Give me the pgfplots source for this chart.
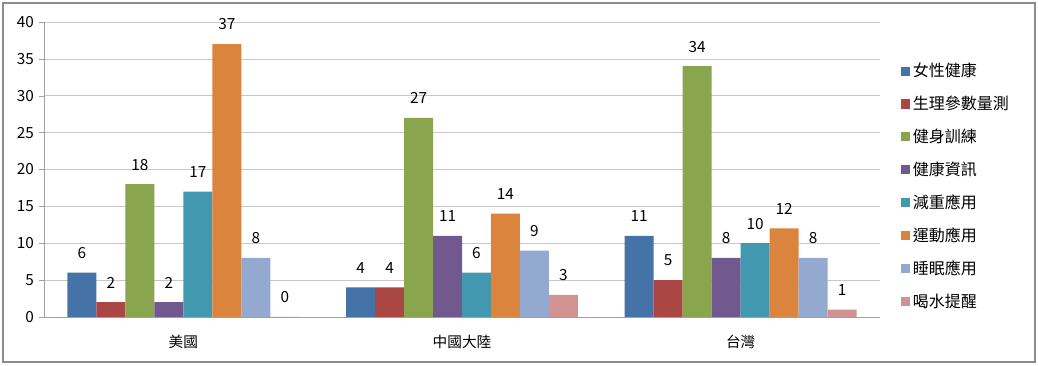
\documentclass[border=0pt]{standalone}
\usepackage{pgfplots}
\pgfplotsset{compat=1.18}
\usepackage{fontspec}
\setmainfont{Noto Sans CJK TC}
\definecolor{c1}{HTML}{4572A7}
\definecolor{c2}{HTML}{AA4643}
\definecolor{c3}{HTML}{89A54E}
\definecolor{c4}{HTML}{71588F}
\definecolor{c5}{HTML}{4198AF}
\definecolor{c6}{HTML}{DB843D}
\definecolor{c7}{HTML}{93A9CF}
\definecolor{c8}{HTML}{D19392}
\definecolor{gridc}{HTML}{C8C8C8}
\definecolor{framec}{HTML}{8C8C8C}
\begin{document}
\begin{tikzpicture}
\useasboundingbox (0pt,0pt) rectangle (778.5pt,274.5pt);
\draw[framec, line width=1.5pt] (2.25pt,3pt) rectangle (776.25pt,272.25pt);
\begin{axis}[
  at={(33pt,36.75pt)}, anchor=south west,
  scale only axis, width=627pt, height=221.25pt,
  ybar=0pt, bar width=0.104,
  xmin=-0.5, xmax=2.5, ymin=0, ymax=40,
  ytick={0,5,...,40},
  xtick={0,1,2}, xticklabels={美國,中國大陸,台灣},
  major x tick style={draw=none},
  extra x ticks={-0.5,0.5,1.5,2.5},
  extra x tick labels={},
  extra x tick style={major tick length=4pt, tick style={draw=gridc!80!black}, grid=none},
  axis x line*=bottom, axis y line*=left,
  axis line style={-, draw=gridc!80!black},
  tick align=outside, major tick length=4pt,
  ytick style={draw=gridc!80!black},
  ymajorgrids, grid style={draw=gridc},
  /pgf/number format/assume math mode=true,
  tick label style={font=\fontsize{11.5}{13}\selectfont},
  xticklabel style={font=\fontsize{11}{13}\selectfont, yshift=-6pt},
  nodes near coords,
  every node near coord/.append style={font=\fontsize{11.5}{13}\selectfont, anchor=south, yshift=7pt, /pgf/number format/assume math mode=true},
  legend style={at={(1.025,0.87)}, anchor=north west, draw=none, fill=none,
    font=\fontsize{12}{14}\selectfont, row sep=9pt, inner sep=0pt,
    nodes={inner sep=2pt}},
  legend cell align=left,
  legend image code/.code={\fill[#1] (0pt,-3.4pt) rectangle (6.8pt,3.4pt);},
  clip=false,
]
\addplot[fill=c1, draw=none] coordinates {(0,6) (1,4) (2,11)};
\addplot[fill=c2, draw=none] coordinates {(0,2) (1,4) (2,5)};
\addplot[fill=c3, draw=none] coordinates {(0,18) (1,27) (2,34)};
\addplot[fill=c4, draw=none] coordinates {(0,2) (1,11) (2,8)};
\addplot[fill=c5, draw=none] coordinates {(0,17) (1,6) (2,10)};
\addplot[fill=c6, draw=none] coordinates {(0,37) (1,14) (2,12)};
\addplot[fill=c7, draw=none] coordinates {(0,8) (1,9) (2,8)};
\addplot[fill=c8, draw=none] coordinates {(0,0) (1,3) (2,1)};
\legend{女性健康,生理參數量測,健身訓練,健康資訊,減重應用,運動應用,睡眠應用,喝水提醒}
\end{axis}
\end{tikzpicture}
\end{document}
